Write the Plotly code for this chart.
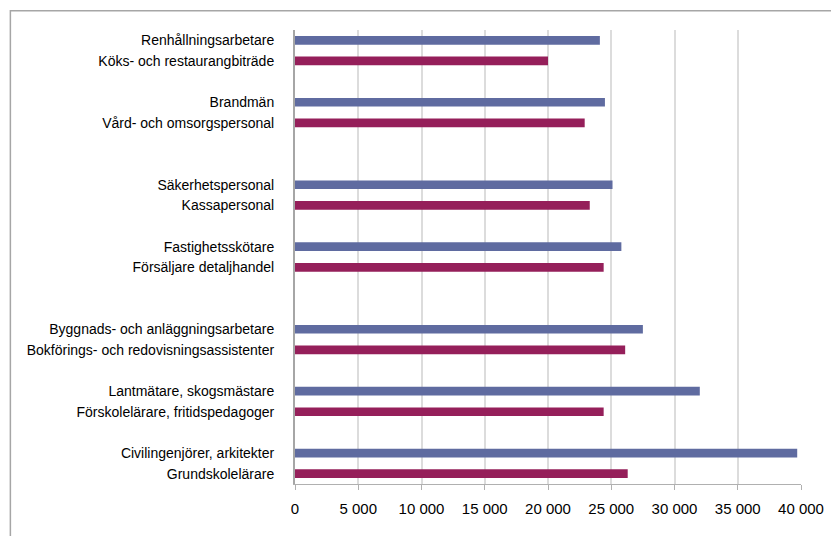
import plotly.graph_objects as go

# Paired occupations: first of each pair drawn in blue, second in maroon
blue_labels = [
    "Renhållningsarbetare",
    "Brandmän",
    "Säkerhetspersonal",
    "Fastighetsskötare",
    "Byggnads- och anläggningsarbetare",
    "Lantmätare, skogsmästare",
    "Civilingenjörer, arkitekter",
]
blue_values = [24100, 24500, 25100, 25800, 27500, 32000, 39700]

maroon_labels = [
    "Köks- och restaurangbiträde",
    "Vård- och omsorgspersonal",
    "Kassapersonal",
    "Försäljare detaljhandel",
    "Bokförings- och redovisningsassistenter",
    "Förskolelärare, fritidspedagoger",
    "Grundskolelärare",
]
maroon_values = [20000, 22900, 23300, 24400, 26100, 24400, 26300]

# Empty rows inserted after each pair
gap_after = [1, 2, 1, 2, 1, 1, 0]

x_ticks = list(range(0, 40001, 5000))
x_tick_text = ["0" if v == 0 else f"{v // 1000} 000" for v in x_ticks]

# Build the category order including blank spacer rows
order = []
spacer = 0
for b, m, g in zip(blue_labels, maroon_labels, gap_after):
    order += [b, m]
    for _ in range(g):
        spacer += 1
        order.append(" " * spacer)

BLUE = "#5F6BA0"
MAROON = "#951F5A"
FONT = "Liberation Sans, Arial, sans-serif"

fig = go.Figure()
fig.add_trace(go.Bar(
    y=blue_labels, x=blue_values, orientation="h",
    marker=dict(color=BLUE, line=dict(width=0)), width=0.42,
))
fig.add_trace(go.Bar(
    y=maroon_labels, x=maroon_values, orientation="h",
    marker=dict(color=MAROON, line=dict(width=0)), width=0.42,
))

fig.update_layout(
    width=831, height=536,
    margin=dict(l=294.5, r=30, t=30, b=52, autoexpand=False),
    paper_bgcolor="white", plot_bgcolor="white",
    barmode="overlay", showlegend=False,
    font=dict(family=FONT, size=14, color="#000000"),
    xaxis=dict(
        range=[0, 40000], tickvals=x_ticks, ticktext=x_tick_text,
        showgrid=True, gridcolor="#DCDCDC", gridwidth=1.5,
        zeroline=False, automargin=False, ticklabeloverflow="allow",
        showline=True, linecolor="#B0B0B0", linewidth=1,
        ticks="outside", ticklen=5, tickcolor="#B0B0B0",
        tickfont=dict(size=15), ticklabelstandoff=6,
    ),
    yaxis=dict(
        type="category", categoryorder="array", categoryarray=order,
        range=[len(order) - 0.5, -0.5],
        showgrid=False, zeroline=False, automargin=False,
        showline=True, linecolor="#A6A6A6", linewidth=2,
        ticks="", ticklabelstandoff=16,
        tickfont=dict(size=14),
    ),
    shapes=[dict(
        type="rect", xref="paper", yref="paper",
        x0=-0.5625, x1=1.5, y0=-0.5, y1=1.0425,
        line=dict(color="#A6A6A6", width=1.5), fillcolor="rgba(0,0,0,0)",
        layer="above",
    )],
)

fig.write_html("out.html")
